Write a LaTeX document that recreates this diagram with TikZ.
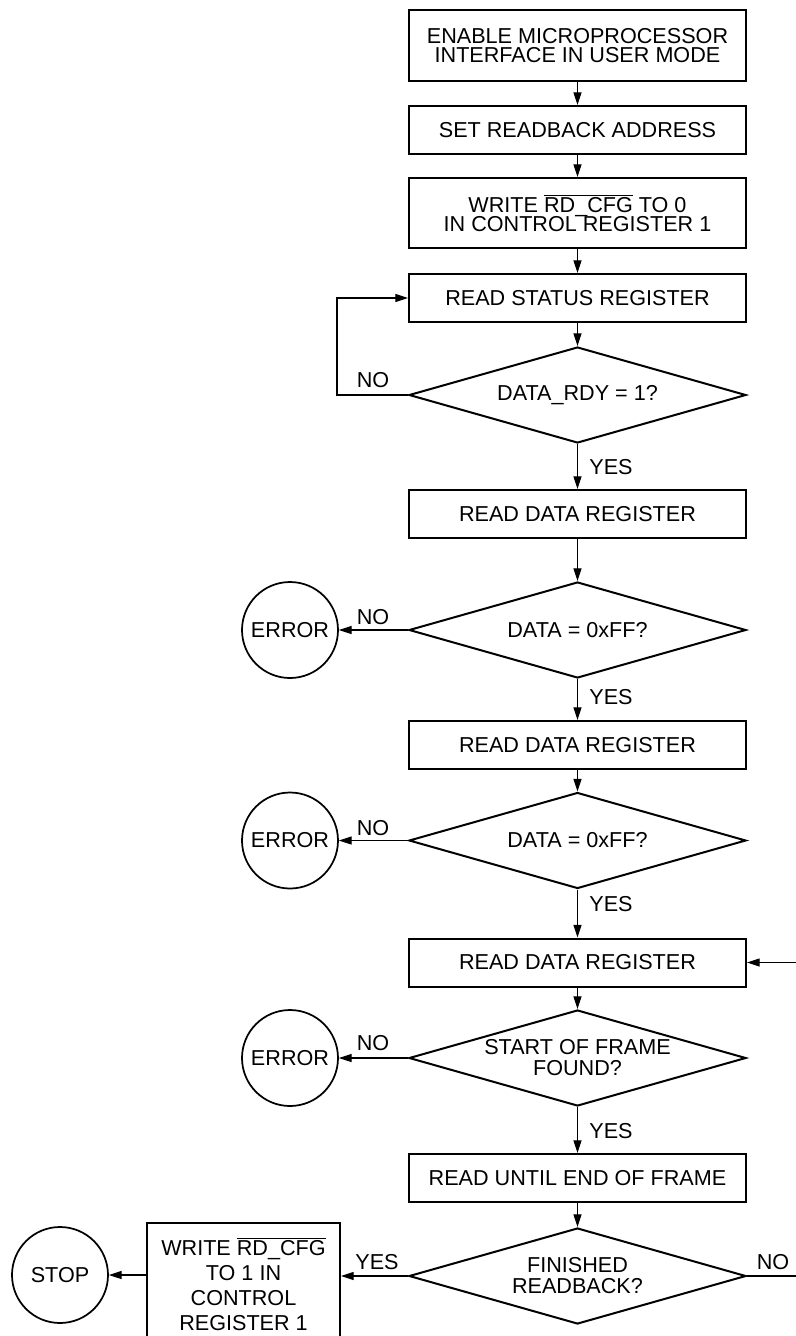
\documentclass[tikz,border=0pt]{standalone}
\usepackage{fontspec}
\setmainfont{Liberation Sans}
\usetikzlibrary{shapes.geometric,arrows.meta}
\newcommand{\ovl}[1]{$\overline{\mbox{#1}}$}
\begin{document}
\begin{tikzpicture}[x=0.75pt,y=-0.75pt,
  every node/.style={font=\fontsize{16.2}{14.6}\selectfont},
  proc/.style={draw, line width=1.5pt, minimum width=252.75pt, inner sep=0pt, align=center},
  dec/.style={draw, diamond, line width=1.5pt, minimum width=252.75pt, minimum height=72pt, inner sep=0pt, aspect=3.5, align=center, font=\fontsize{16.2}{15.7}\selectfont},
  term/.style={draw, circle, line width=1.3pt, minimum size=72pt, inner sep=0pt},
  conn/.style={line width=0.8pt, -{Triangle[length=9.5pt,width=6pt]}},
  plain/.style={line width=0.8pt},
  lbl/.style={inner sep=0pt}]
\useasboundingbox (0,0) rectangle (796,1336);
\clip (0,0) rectangle (796,1336);
% main column
\node[proc, minimum height=53.25pt] (b1) at (577.5,45.5) {ENABLE MICROPROCESSOR\\INTERFACE IN USER MODE};
\node[proc, minimum height=36pt] (b2) at (577.5,130) {SET READBACK ADDRESS};
\node[proc, minimum height=52.5pt] (b3) at (577.5,213) {WRITE \ovl{RD\_CFG} TO 0\\IN CONTROL REGISTER 1};
\node[proc, minimum height=36pt] (b4) at (577.5,298) {READ STATUS REGISTER};
\node[dec] (d1) at (577.5,395) {DATA\_RDY = 1?};
\node[proc, minimum height=36pt] (b5) at (577.5,514) {READ DATA REGISTER};
\node[dec] (d2) at (577.5,630) {DATA = 0xFF?};
\node[proc, minimum height=36pt] (b6) at (577.5,745) {READ DATA REGISTER};
\node[dec] (d3) at (577.5,840.5) {DATA = 0xFF?};
\node[proc, minimum height=36pt] (b7) at (577.5,962.5) {READ DATA REGISTER};
\node[dec] (d4) at (577.5,1058) {START OF FRAME\\FOUND?};
\node[proc, minimum height=36pt] (b8) at (577.5,1178) {READ UNTIL END OF FRAME};
\node[dec] (d5) at (577.5,1276) {FINISHED\\READBACK?};
% left side
\node[term] (e1) at (290,630) {ERROR};
\node[term] (e2) at (290,840.5) {ERROR};
\node[term] (e3) at (290,1058) {ERROR};
\node[proc, minimum width=144.75pt, minimum height=91.5pt, font=\fontsize{16.2}{18.75}\selectfont] (b9) at (243.5,1284) {WRITE \ovl{RD\_CFG}\\TO 1 IN\\CONTROL\\REGISTER 1};
\node[term] (stop) at (60,1275) {STOP};
% edge coordinates
\coordinate (r1) at (796,962.5);
\coordinate (r2) at (796,1276);
\coordinate (l1) at (337,395);
\coordinate (l2) at (337,298);
% connectors
\draw[conn] (b1) -- (b2);
\draw[conn] (b2) -- (b3);
\draw[conn] (b3) -- (b4);
\draw[conn] (b4) -- (d1);
\draw[conn] (d1) -- (b5);
\draw[conn] (b5) -- (d2);
\draw[conn] (d2) -- (b6);
\draw[conn] (b6) -- (d3);
\draw[conn] (d3) -- (b7);
\draw[conn] (b7) -- (d4);
\draw[conn] (d4) -- (b8);
\draw[conn] (b8) -- (d5);
\draw[conn] (d1.west) -- (l1) -- (l2) -- (b4.west);
\draw[conn] (d2.west) -- (e1);
\draw[conn] (d3.west) -- (e2);
\draw[conn] (d4.west) -- (e3);
\draw[conn] (d5.west) -- (b9.east |- d5.west);
\draw[conn] (b9.west |- stop) -- (stop);
\draw[conn] (r1) -- (b7.east);
\draw[plain] (d5.east) -- (r2);
% labels
\node[lbl] (n1) at (373,380) {NO};
\node[lbl] (y1) at (611,467) {YES};
\node[lbl] (n2) at (373,617) {NO};
\node[lbl] (y2) at (611,697) {YES};
\node[lbl] (n3) at (373,828) {NO};
\node[lbl] (y3) at (611,904) {YES};
\node[lbl] (n4) at (373,1043) {NO};
\node[lbl] (y4) at (611,1131) {YES};
\node[lbl] (y5) at (377,1262) {YES};
\node[lbl] (n5) at (773,1262) {NO};
\end{tikzpicture}
\end{document}
